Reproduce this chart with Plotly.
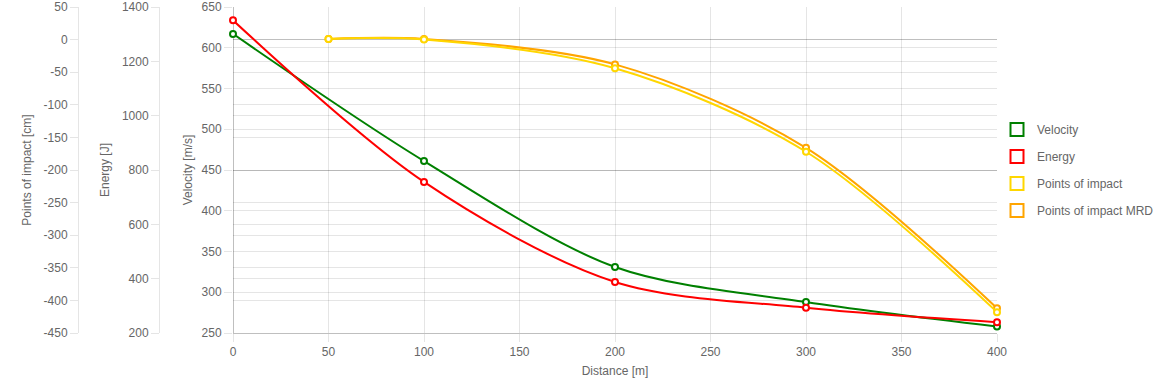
import plotly.graph_objects as go

distance = [0, 100, 200, 300, 400]
velocity = [617, 461, 331, 288, 258]
energy = [1351, 756, 388, 293, 240]
poi_distance = [50, 100, 200, 300, 400]
poi = [1, 0, -44, -172, -418]
poi_mrd = [1, 1, -38, -166, -412]

x_ticks = [0, 50, 100, 150, 200, 250, 300, 350, 400]
vel_ticks = [250, 300, 350, 400, 450, 500, 550, 600, 650]
energy_ticks = [200, 400, 600, 800, 1000, 1200, 1400]
poi_ticks = [50, 0, -50, -100, -150, -200, -250, -300, -350, -400, -450]

GREEN = "#008000"
RED = "#ff0000"
GOLD = "#ffd700"
ORANGE = "#ffa500"
FONT = "Liberation Sans, Arial, sans-serif"
TXT = "#666666"
GRID = "rgba(0,0,0,0.1)"

W, H = 1160, 386
ML, MR, MT, MB = 0, 163, 7, 53
PW = W - ML - MR
X0 = 233

fig = go.Figure()


def series(x, y, color, yaxis):
    fig.add_trace(go.Scatter(
        x=x, y=y, yaxis=yaxis, mode="lines+markers", cliponaxis=False,
        line=dict(color=color, width=2, shape="spline", smoothing=0.9),
        marker=dict(symbol="circle", size=6, color="white",
                    line=dict(color=color, width=2)),
        showlegend=False, hoverinfo="x+y"))


# drawn bottom to top (first dataset on top)
series(poi_distance, poi_mrd, ORANGE, "y3")
series(poi_distance, poi, GOLD, "y3")
series(distance, energy, RED, "y2")
series(distance, velocity, GREEN, "y")

legend_items = [("Velocity", GREEN), ("Energy", RED),
                ("Points of impact", GOLD), ("Points of impact MRD", ORANGE)]
for i, (name, color) in enumerate(legend_items):
    fig.add_trace(go.Scatter(
        x=[None], y=[None], mode="markers", name=name, legendgroup=f"g{i}",
        marker=dict(symbol="square", size=13, color="white",
                    line=dict(color=color, width=2))))

axis_font = dict(family=FONT, size=12, color=TXT)

fig.update_layout(
    width=W, height=H,
    margin=dict(l=ML, r=MR, t=MT, b=MB, autoexpand=False),
    paper_bgcolor="white", plot_bgcolor="white",
    font=axis_font,
    showlegend=True,
    legend=dict(x=1.0, xanchor="left", y=0.5, yanchor="middle",
                traceorder="grouped", tracegroupgap=8,
                font=dict(family=FONT, size=12, color=TXT),
                bgcolor="rgba(0,0,0,0)"),
    xaxis=dict(
        domain=[X0 / PW, 1], range=[0, 400], automargin=False,
        tickvals=x_ticks, ticktext=[str(v) for v in x_ticks],
        showgrid=True, gridcolor=GRID, gridwidth=1,
        zeroline=True, zerolinecolor="rgba(0,0,0,0.25)", zerolinewidth=1,
        showline=True, linecolor="rgba(0,0,0,0.25)", linewidth=1,
        ticks="outside", ticklen=8, tickcolor=GRID,
        tickfont=axis_font,
        title=dict(text="Distance [m]", font=axis_font, standoff=8)),
    yaxis=dict(
        range=[250, 650], automargin=False,
        tickvals=vel_ticks, ticktext=[str(v) for v in vel_ticks],
        showgrid=True, gridcolor=GRID, gridwidth=1, zeroline=False,
        ticks="outside", ticklen=8, tickcolor=GRID,
        tickfont=axis_font,
        title=dict(text="Velocity [m/s]", font=axis_font, standoff=6)),
    yaxis2=dict(
        range=[200, 1400], overlaying="y", anchor="free", automargin=False,
        position=159 / PW, side="left",
        tickvals=energy_ticks, ticktext=[str(v) for v in energy_ticks],
        showgrid=True, gridcolor=GRID, gridwidth=1, zeroline=False,
        showline=True, linecolor=GRID, linewidth=1,
        ticks="outside", ticklen=8, tickcolor=GRID,
        tickfont=axis_font,
        title=dict(text="Energy [J]", font=axis_font, standoff=8)),
    yaxis3=dict(
        range=[-450, 50], overlaying="y", anchor="free", automargin=False,
        position=78 / PW, side="left",
        tickvals=poi_ticks, ticktext=[str(v) for v in poi_ticks],
        showgrid=True, gridcolor=GRID, gridwidth=1,
        zeroline=True, zerolinecolor="rgba(0,0,0,0.25)", zerolinewidth=1,
        showline=True, linecolor=GRID, linewidth=1,
        ticks="outside", ticklen=8, tickcolor=GRID,
        tickfont=axis_font,
        title=dict(text="Points of impact [cm]", font=axis_font, standoff=8)),
)

fig.write_html("out.html",
               config={"displayModeBar": False},
               post_script="document.body.style.margin='0';"
                           "document.body.style.overflow='hidden';")
